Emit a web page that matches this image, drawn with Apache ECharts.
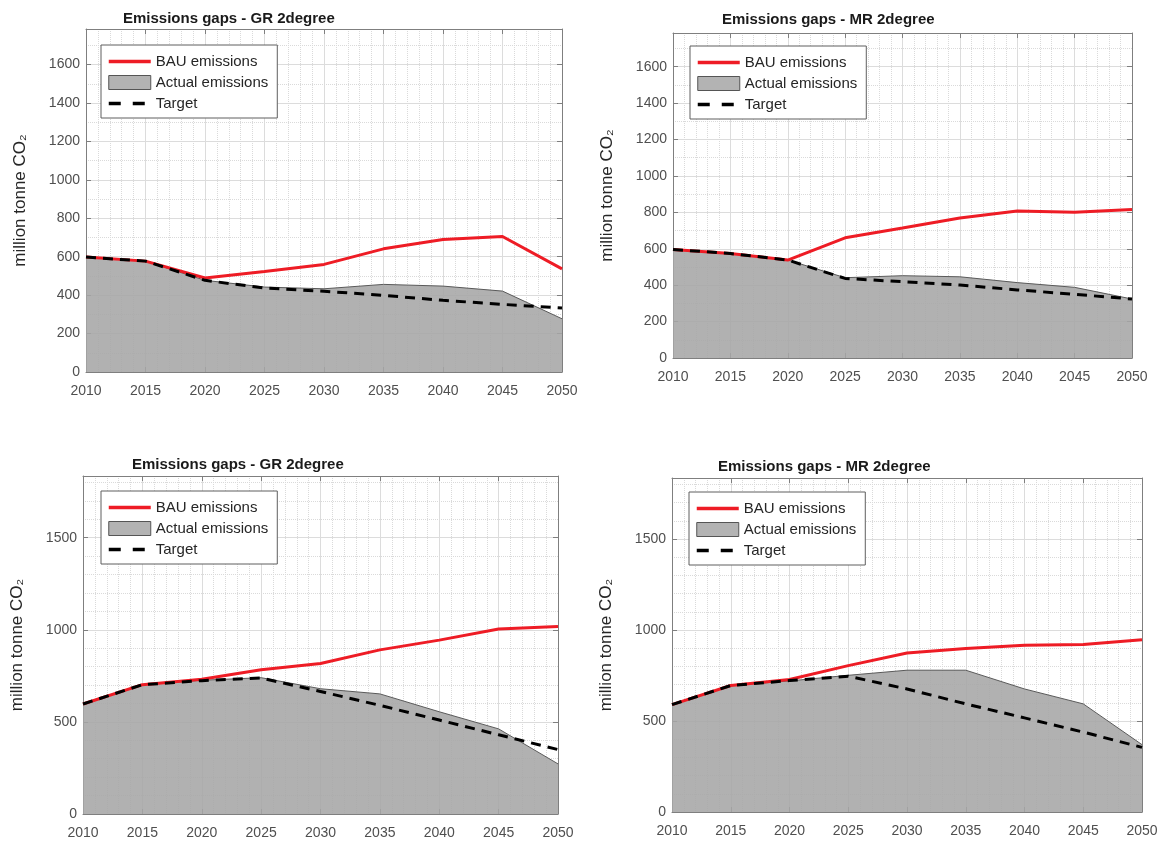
<!DOCTYPE html>
<html>
<head>
<meta charset="utf-8">
<title>Emissions gaps</title>
<script src="https://cdn.jsdelivr.net/npm/echarts@6/dist/echarts.min.js"></script>
<style>
  html, body { margin: 0; padding: 0; background: #ffffff; }
  #chart { width: 1166px; height: 846px; }
</style>
</head>
<body>
<div id="chart"></div>
<script>
// ---- data ----------------------------------------------------------------
const years = [2010, 2015, 2020, 2025, 2030, 2035, 2040, 2045, 2050];
const seriesNames = ['BAU emissions', 'Actual emissions', 'Target'];
const panelTitles = [
  'Emissions gaps - GR 2degree',
  'Emissions gaps - MR 2degree',
  'Emissions gaps - GR 2degree',
  'Emissions gaps - MR 2degree'
];
const yAxisName = 'million tonne CO\u2082';

// upper row (million tonne CO2)
const grUpperBAU    = [598, 577, 489, 523, 560, 641, 690, 705, 537];
const grUpperActual = [598, 577, 477, 442, 433, 456, 447, 421, 277];
const grUpperTarget = [598, 577, 477, 437, 420, 399, 373, 352, 333];
const mrUpperBAU    = [596, 574, 538, 660, 714, 769, 807, 800, 815];
const mrUpperActual = [596, 574, 538, 441, 452, 446, 414, 388, 324];
const mrUpperTarget = [596, 574, 538, 437, 419, 401, 374, 350, 324];

// lower row (million tonne CO2)
const grLowerBAU    = [597, 702, 731, 783, 817, 891, 944, 1004, 1018];
const grLowerActual = [597, 702, 726, 740, 680, 652, 555, 462, 272];
const grLowerTarget = [597, 702, 724, 738, 665, 590, 510, 430, 350];
const mrLowerBAU    = [590, 695, 728, 804, 874, 898, 916, 920, 947];
const mrLowerActual = [590, 695, 720, 751, 779, 779, 676, 594, 370];
const mrLowerTarget = [590, 695, 722, 746, 676, 594, 517, 439, 355];

// y scales of the two rows
const upperYMax = 1785, upperYStep = 200, upperYMinor = 2;
const lowerYMax = 1835, lowerYStep = 500, lowerYMinor = 5;

// ---- styling -------------------------------------------------------------
const FONT = '"Liberation Sans", Arial, Helvetica, sans-serif';
const BOX = '#7f7f7f';
const LABEL = '#4f4f4f';
const RED = '#ee1c25';

const panels = [
  { grid: { left: 86, top: 29, width: 476, height: 343 }, titlePos: [123, 11], legendPos: [101, 45],
    yMax: upperYMax, yStep: upperYStep, yMinor: upperYMinor,
    bau: grUpperBAU, actual: grUpperActual, target: grUpperTarget },
  { grid: { left: 673, top: 33, width: 459, height: 325 }, titlePos: [722, 12], legendPos: [690, 46],
    yMax: upperYMax, yStep: upperYStep, yMinor: upperYMinor,
    bau: mrUpperBAU, actual: mrUpperActual, target: mrUpperTarget },
  { grid: { left: 83, top: 476, width: 475, height: 338 }, titlePos: [132, 457], legendPos: [101, 491],
    yMax: lowerYMax, yStep: lowerYStep, yMinor: lowerYMinor,
    bau: grLowerBAU, actual: grLowerActual, target: grLowerTarget },
  { grid: { left: 672, top: 478, width: 470, height: 334 }, titlePos: [718, 459], legendPos: [689, 492],
    yMax: lowerYMax, yStep: lowerYStep, yMinor: lowerYMinor,
    bau: mrLowerBAU, actual: mrLowerActual, target: mrLowerTarget }
];

const plain = v => String(v);
const pairs = vals => years.map((y, k) => [y, vals[k]]);

const option = {
  animation: false,
  backgroundColor: '#ffffff',
  title: [], legend: [], grid: [], xAxis: [], yAxis: [], series: []
};

panels.forEach((p, i) => {
  option.grid.push(Object.assign({}, p.grid));

  option.title.push({
    text: panelTitles[i], left: p.titlePos[0], top: p.titlePos[1], padding: 0,
    textStyle: { fontFamily: FONT, fontSize: 15, fontWeight: 'bold', color: '#1a1a1a' }
  });

  option.legend.push({
    left: p.legendPos[0], top: p.legendPos[1], orient: 'vertical',
    itemWidth: 42, itemHeight: 14, itemGap: 6, padding: [9, 9, 7, 6],
    backgroundColor: '#ffffff', borderColor: '#5f5f5f', borderWidth: 1,
    selectedMode: false,
    textStyle: { fontFamily: FONT, fontSize: 15, color: '#262626' },
    data: [
      { name: seriesNames[0], itemStyle: { opacity: 0 },
        lineStyle: { width: 3.5 } },
      { name: seriesNames[1], icon: 'rect',
        itemStyle: { color: '#b3b3b3', borderColor: '#555555', borderWidth: 1 } },
      { name: seriesNames[2], itemStyle: { opacity: 0 },
        lineStyle: { width: 3.5, type: [12, 12] } }
    ]
  });

  const xBase = { type: 'value', gridIndex: i, min: 2010, max: 2050, interval: 5 };
  const yBase = { type: 'value', gridIndex: i, min: 0, max: p.yMax, interval: p.yStep };
  const line = { show: true, onZero: false, lineStyle: { color: BOX, width: 1 } };
  const tick = { show: true, inside: true, length: 5, lineStyle: { color: BOX } };

  // bottom x axis with labels and grid
  option.xAxis.push(Object.assign({}, xBase, {
    position: 'bottom', axisLine: line, axisTick: tick,
    minorTick: { show: true, splitNumber: 5, length: 0 },
    axisLabel: { formatter: plain, margin: 12, fontFamily: FONT, fontSize: 14, color: LABEL },
    splitLine: { show: true, lineStyle: { color: '#dcdcdc', width: 1 } },
    minorSplitLine: { show: true, lineStyle: { color: '#dadada', width: 1, type: 'dotted' } }
  }));
  // top x axis: box edge and ticks only
  option.xAxis.push(Object.assign({}, xBase, {
    position: 'top', axisLine: line, axisTick: tick,
    axisLabel: { show: false }, splitLine: { show: false }
  }));

  // left y axis with labels, name and grid
  option.yAxis.push(Object.assign({}, yBase, {
    position: 'left', axisLine: line, axisTick: tick,
    minorTick: { show: true, splitNumber: p.yMinor, length: 0 },
    name: yAxisName, nameLocation: 'middle', nameRotate: 90, nameGap: 57,
    nameTextStyle: { fontFamily: FONT, fontSize: 17, color: '#262626' },
    axisLabel: { formatter: plain, margin: 6, showMaxLabel: false,
      fontFamily: FONT, fontSize: 14, color: LABEL },
    splitLine: { show: true, lineStyle: { color: '#dcdcdc', width: 1 } },
    minorSplitLine: { show: true, lineStyle: { color: '#dadada', width: 1, type: 'dotted' } }
  }));
  // right y axis: box edge and ticks only
  option.yAxis.push(Object.assign({}, yBase, {
    position: 'right', axisLine: line, axisTick: tick,
    axisLabel: { show: false }, splitLine: { show: false }
  }));

  const ax = { xAxisIndex: 2 * i, yAxisIndex: 2 * i, symbol: 'none', silent: true };

  option.series.push(Object.assign({}, ax, {
    type: 'line', name: seriesNames[1], data: pairs(p.actual), z: 2,
    lineStyle: { color: '#5a5a5a', width: 1 },
    itemStyle: { color: '#b3b3b3' },
    areaStyle: { color: '#a6a6a6', opacity: 0.88 }
  }));
  option.series.push(Object.assign({}, ax, {
    type: 'line', name: seriesNames[0], data: pairs(p.bau), z: 3,
    lineStyle: { color: RED, width: 3 },
    itemStyle: { color: RED }
  }));
  option.series.push(Object.assign({}, ax, {
    type: 'line', name: seriesNames[2], data: pairs(p.target), z: 4,
    lineStyle: { color: '#000000', width: 3, type: [10, 7] },
    itemStyle: { color: '#000000' }
  }));
});

const chart = echarts.init(document.getElementById('chart'), null, { renderer: 'canvas' });
chart.setOption(option);
</script>
</body>
</html>
